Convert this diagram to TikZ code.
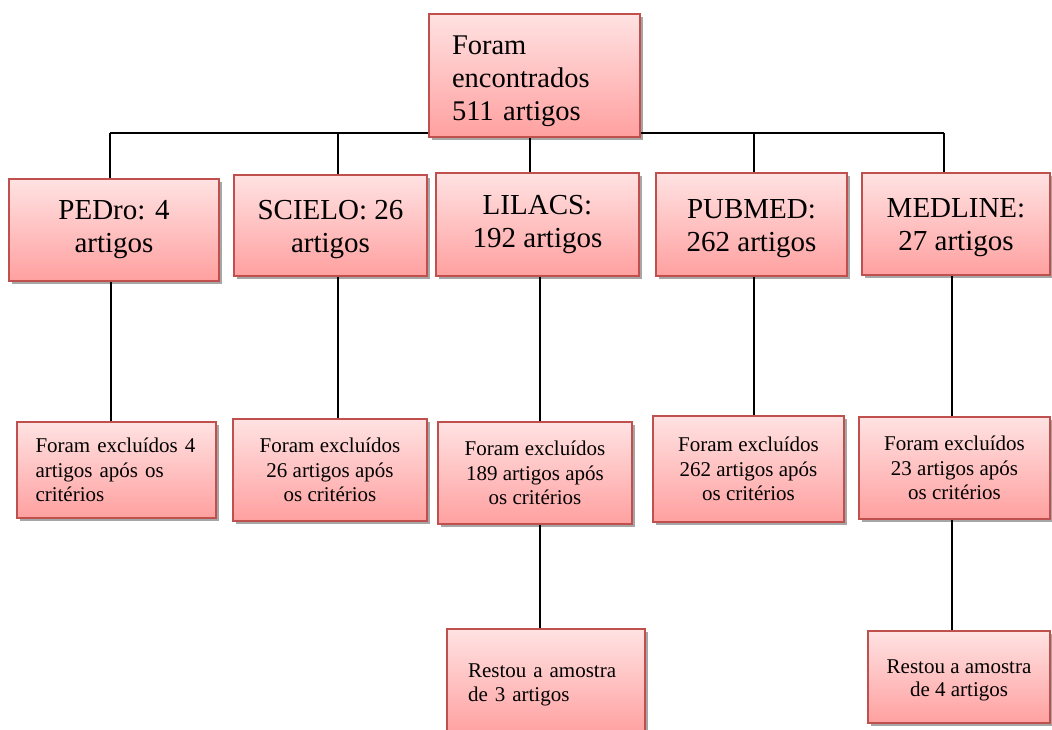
\documentclass[tikz,border=0pt]{standalone}
\usepackage{fontspec}
\setmainfont{Liberation Serif}
\usetikzlibrary{shadows,backgrounds}
\definecolor{boxline}{HTML}{C0504D}
\definecolor{boxtop}{HTML}{FFE2E2}
\definecolor{boxbot}{HTML}{FFA0A0}
\newcommand{\lift}[1]{\rule{0pt}{#1pt}}
\tikzset{
  box/.style={draw=boxline, line width=1.2pt, top color=boxtop, bottom color=boxbot,
    drop shadow={shadow xshift=2.5pt, shadow yshift=-3pt, opacity=0.35, fill=black},
    inner sep=0pt, outer sep=0pt},
  big/.style={font=\fontsize{29}{33}\selectfont, align=center},
  small/.style={font=\fontsize{21}{24.5}\selectfont, align=center},
  link/.style={draw=black, line width=1.4pt}
}
\begin{document}
\begin{tikzpicture}[x=1pt,y=-1pt]
\useasboundingbox (0,0) rectangle (1052,729);

% level 1
\node[box, big, font=\fontsize{28.5}{33}\selectfont, minimum width=211pt, minimum height=123pt,
      align=left, text width=165pt, inner xsep=23pt] (top) at (534.5,75.5)
      {\lift{31}Foram\\encontrados\\511 artigos};

% level 2
\node[box, big, minimum width=210pt, minimum height=102pt] (PEDro) at (114,230) {PEDro: 4\\artigos};
\node[box, big, minimum width=193pt, minimum height=101pt] (SCIELO) at (330.5,225.5) {\lift{28}SCIELO: 26\\artigos};
\node[box, big, minimum width=203pt, minimum height=103pt] (LILACS) at (537.5,224.5) {LILACS:\\192 artigos};
\node[box, big, minimum width=191pt, minimum height=103pt] (PUBMED) at (751.5,224.5) {\lift{27}PUBMED:\\262 artigos};
\node[box, big, minimum width=188pt, minimum height=102pt] (MEDLINE) at (956,224) {\lift{27}MEDLINE:\\27 artigos};

% level 3
\node[box, small, minimum width=199pt, minimum height=96pt, align=left, text width=162pt, inner xsep=18.5pt]
      (E1) at (116.5,470) {Foram excluídos 4\\artigos após os\\critérios};
\node[box, small, minimum width=194pt, minimum height=102pt] (E2) at (330,470) {Foram excluídos\\26 artigos após\\os critérios};
\node[box, small, minimum width=194pt, minimum height=102pt] (E3) at (535,473) {Foram excluídos\\189 artigos após\\os critérios};
\node[box, small, minimum width=191pt, minimum height=106pt] (E4) at (748.5,469) {Foram excluídos\\262 artigos após\\os critérios};
\node[box, small, minimum width=191pt, minimum height=102pt] (E5) at (954.5,468) {Foram excluídos\\23 artigos após\\os critérios};

% level 4
\node[box, small, minimum width=198pt, minimum height=106pt, align=left, text width=156pt, inner xsep=21pt]
      (R3) at (546,682) {\lift{20}Restou a amostra\\de 3 artigos};
\node[box, small, font=\fontsize{21}{23}\selectfont, minimum width=182pt, minimum height=92pt] (R5) at (959,677) {\lift{20}Restou a amostra\\de 4 artigos};

\begin{pgfonlayer}{background}
\coordinate (busL) at (110,133);
\coordinate (busR) at (944,133);
\draw[link] (busL) -- (busR);
\draw[link] (busL) -- (busL |- PEDro.north);
\draw[link] ([xshift=7.5pt]SCIELO.north) -- ([xshift=7.5pt]SCIELO.north |- busL);
\draw[link] ([xshift=-4.5pt]top.south) -- ([xshift=-4.5pt]top.south |- LILACS.north);
\draw[link] ([xshift=2.5pt]PUBMED.north) -- ([xshift=2.5pt]PUBMED.north |- busL);
\draw[link] (busR) -- (busR |- MEDLINE.north);

\draw[link] ([xshift=-3pt]PEDro.south) -- ([xshift=-3pt]PEDro.south |- E1.north);
\draw[link] ([xshift=7.5pt]SCIELO.south) -- ([xshift=7.5pt]SCIELO.south |- E2.north);
\draw[link] ([xshift=2.5pt]LILACS.south) -- ([xshift=2.5pt]LILACS.south |- E3.north);
\draw[link] ([xshift=2.5pt]PUBMED.south) -- ([xshift=2.5pt]PUBMED.south |- E4.north);
\draw[link] ([xshift=-4pt]MEDLINE.south) -- ([xshift=-4pt]MEDLINE.south |- E5.north);

\draw[link] ([xshift=5pt]E3.south) -- ([xshift=5pt]E3.south |- R3.north);
\draw[link] ([xshift=-2.5pt]E5.south) -- ([xshift=-2.5pt]E5.south |- R5.north);
\end{pgfonlayer}
\end{tikzpicture}
\end{document}
